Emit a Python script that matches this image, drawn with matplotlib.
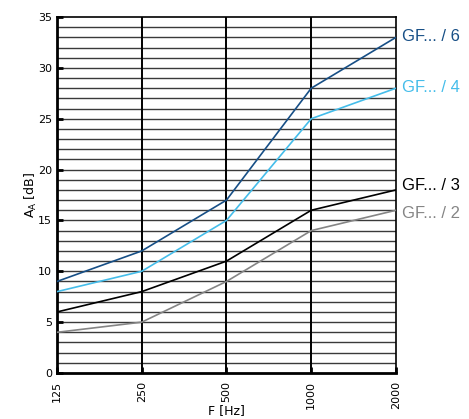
import matplotlib.pyplot as plt
import numpy as np

# Frequency bands (categorical, equally spaced)
freqs = ["125", "250", "500", "1000", "2000"]

gf6 = [9, 12, 17, 28, 33]
gf4 = [8, 10, 15, 25, 28]
gf3 = [6, 8, 11, 16, 18]
gf2 = [4, 5, 9, 14, 16]

series = [
    ("GF... / 6", gf6, "#174f86", 33.1),
    ("GF... / 4", gf4, "#45bdea", 28.1),
    ("GF... / 3", gf3, "#000000", 18.4),
    ("GF... / 2", gf2, "#858585", 15.7),
]

fig = plt.figure(figsize=(4.69, 4.19), dpi=100)
ax = fig.add_axes([0.1215, 0.1098, 0.7228, 0.8496])

x = np.arange(len(freqs))

# horizontal grid every 1 dB
for yv in range(1, 35):
    ax.axhline(yv, color="#3a3a3a", lw=1.0, zorder=1)
for xv in x[1:-1]:
    ax.axvline(xv, color="black", lw=1.4, zorder=1)

for name, vals, col, ylab in series:
    ax.plot(x, vals, color=col, lw=1.2, zorder=3)
    ax.text(x[-1] + 0.07, ylab, name, color=col, fontsize=12,
            family="Liberation Sans", va="center", ha="left", clip_on=False)

ax.set_xlim(0, 4)
ax.set_ylim(0, 35)
ax.set_xticks(x)
ax.set_xticklabels(freqs, rotation=90, fontsize=8)
ax.set_yticks(range(0, 36, 5))
ax.tick_params(axis="y", labelsize=8, direction="in", length=4, width=2)
ax.tick_params(axis="x", direction="in", length=4, width=2, pad=6)

for side in ["left", "bottom"]:
    ax.spines[side].set_linewidth(2)
for side in ["top", "right"]:
    ax.spines[side].set_linewidth(1.2)

ax.set_xlabel("F [Hz]", fontsize=9, labelpad=-4)
ax.set_ylabel("A$_\\mathregular{A}$ [dB]", fontsize=9, labelpad=-1)

fig.savefig("out.png", dpi=100)
